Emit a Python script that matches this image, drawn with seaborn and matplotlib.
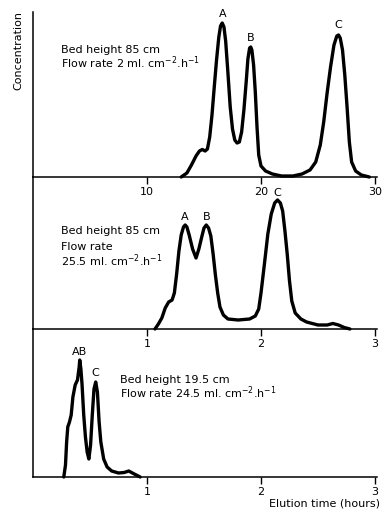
import matplotlib
matplotlib.use('Agg')
import matplotlib.pyplot as plt
import seaborn as sns

# panel 1: bed 85 cm, 2 ml/cm2/h  (elution axis 0-30 h)
p1_time = [13.0, 13.5, 13.9, 14.3, 14.6, 14.85, 15.1, 15.3, 15.5, 15.7, 15.9, 16.1, 16.3, 16.45,
           16.6, 16.75, 16.9, 17.1, 17.3, 17.5, 17.7, 17.9, 18.1, 18.3, 18.5, 18.7, 18.85, 19.0,
           19.1, 19.2, 19.35, 19.5, 19.65, 19.8, 20.0, 20.4, 21.0, 21.8, 22.8, 23.6, 24.3, 24.8,
           25.2, 25.5, 25.8, 26.1, 26.4, 26.65, 26.8, 26.95, 27.15, 27.35, 27.55, 27.75, 27.95,
           28.3, 28.8, 29.5]
p1_conc = [0, 4, 12, 21, 26, 27.5, 26, 28, 40, 62, 90, 117, 140, 151,
           154, 150, 136, 104, 70, 48, 37, 34, 35, 45, 67, 95, 118, 129,
           130, 127, 112, 85, 50, 22, 11, 6, 3, 1, 1, 3, 7, 15,
           32, 55, 84, 110, 132, 141, 142, 139, 127, 102, 70, 35, 15,
           6, 2, 0]
p1_peaks = ['A', 'B', 'C']
p1_peak_t = [16.6, 19.1, 26.8]
p1_peak_c = [163, 139, 152]
p1_note = ['Bed height 85 cm', 'Flow rate 2 ml. cm$^{-2}$.h$^{-1}$']

# panel 2: bed 85 cm, 25.5 ml/cm2/h
p2_time = [1.07, 1.10, 1.13, 1.16, 1.19, 1.22, 1.24, 1.26, 1.28, 1.30, 1.32, 1.335, 1.35, 1.37,
           1.40, 1.43, 1.455, 1.48, 1.50, 1.52, 1.54, 1.56, 1.58, 1.60, 1.62, 1.64, 1.67, 1.71,
           1.80, 1.90, 1.95, 1.98, 2.00, 2.03, 2.06, 2.09, 2.12, 2.145, 2.17, 2.19, 2.21, 2.23,
           2.25, 2.27, 2.30, 2.35, 2.40, 2.50, 2.58, 2.63, 2.68, 2.73, 2.78]
p2_conc = [0, 5, 11, 21, 27, 29, 36, 55, 78, 94, 102, 104, 102, 94,
           80, 71, 80, 92, 101, 104, 101, 93, 75, 54, 36, 22, 14, 10,
           9, 10, 13, 20, 36, 65, 95, 115, 126, 129, 126, 118, 98, 75,
           48, 28, 16, 10, 7, 4, 4, 5.5, 4, 1.5, 0]
p2_peaks = ['A', 'B', 'C']
p2_peak_t = [1.33, 1.52, 2.14]
p2_peak_c = [112, 112, 136]
p2_note = ['Bed height 85 cm', 'Flow rate', '25.5 ml. cm$^{-2}$.h$^{-1}$']

# panel 3: bed 19.5 cm, 24.5 ml/cm2/h
p3_time = [0.27, 0.285, 0.295, 0.305, 0.32, 0.335, 0.35, 0.37, 0.39, 0.405, 0.41, 0.42, 0.43,
           0.445, 0.46, 0.475, 0.49, 0.505, 0.52, 0.535, 0.55, 0.565, 0.58, 0.595, 0.62, 0.65,
           0.69, 0.75, 0.80, 0.84, 0.88, 0.94]
p3_conc = [0, 12, 35, 50, 55, 62, 80, 92, 97, 110, 117, 108, 93,
           62, 40, 25, 18, 32, 62, 88, 95, 85, 55, 35, 18, 10,
           6, 4, 4.5, 6, 3.5, 0]
p3_peaks = ['AB', 'C']
p3_peak_t = [0.41, 0.55]
p3_peak_c = [125, 104]
p3_note = ['Bed height 19.5 cm', 'Flow rate 24.5 ml. cm$^{-2}$.h$^{-1}$']

sns.set_style('ticks')
plt.rcParams['font.family'] = ['DejaVu Sans']
plt.rcParams['text.color'] = 'black'
plt.rcParams['xtick.color'] = 'black'
plt.rcParams['axes.edgecolor'] = 'black'

W, H = 382, 523
fig = plt.figure(figsize=(W / 100, H / 100), dpi=100)


def make_axes(top, bottom):
    return fig.add_axes([33 / W, 1 - bottom / H, (377 - 33) / W, (bottom - top) / H])


panels = [
    (make_axes(12, 177), p1_time, p1_conc, p1_peaks, p1_peak_t, p1_peak_c, p1_note,
     30, [10, 20, 30], 165, 2.5, [127, 114]),
    (make_axes(177, 329), p2_time, p2_conc, p2_peaks, p2_peak_t, p2_peak_c, p2_note,
     3, [1, 2, 3], 152, 0.25, [98, 82, 68]),
    (make_axes(329, 477), p3_time, p3_conc, p3_peaks, p3_peak_t, p3_peak_c, p3_note,
     3, [1, 2, 3], 148, 0.76, [97, 84]),
]

for ax, t, c, names, pt, pc, note, tmax, ticks, ymax, nx, ny in panels:
    ax.set_facecolor('none')
    sns.lineplot(x=t, y=c, ax=ax, color='black', lw=2.4, clip_on=False)
    ax.set_xlim(0, tmax * (377 - 33) / (375 - 33))
    ax.set_ylim(0, ymax)
    ax.set_xticks(ticks)
    ax.set_xticklabels([str(v) for v in ticks])
    ax.set_yticks([])
    ax.tick_params(axis='x', length=5, width=1, pad=2, labelsize=8, colors='black')
    for s in ['top', 'right']:
        ax.spines[s].set_visible(False)
    for s in ['left', 'bottom']:
        ax.spines[s].set_linewidth(1.1)
        ax.spines[s].set_color('black')
    for name, x, y in zip(names, pt, pc):
        ax.text(x, y, name, ha='center', va='center', fontsize=8, color='black')
    for line, y in zip(note, ny):
        ax.text(nx, y, line, ha='left', va='center', fontsize=8, color='black')

fig.text(18 / W, 1 - 51 / H, 'Concentration', rotation=90, ha='center', va='center',
         fontsize=8, color='black')
fig.text(380 / W, 1 - 503 / H, 'Elution time (hours)', ha='right', va='center',
         fontsize=8, color='black')

fig.savefig('out.png', dpi=100)
